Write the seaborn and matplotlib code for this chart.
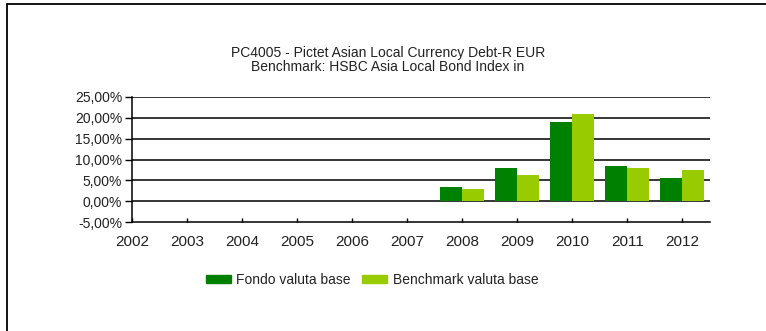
import numpy as np
import pandas as pd
import matplotlib
matplotlib.use('Agg')
import matplotlib.pyplot as plt
from matplotlib.lines import Line2D
import seaborn as sns

# data
years = ['2002', '2003', '2004', '2005', '2006', '2007', '2008', '2009', '2010', '2011', '2012']
fondo = [np.nan, np.nan, np.nan, np.nan, np.nan, np.nan, 3.45, 8.0, 19.0, 8.4, 5.5]
benchmark = [np.nan, np.nan, np.nan, np.nan, np.nan, np.nan, 3.0, 6.2, 20.9, 8.0, 7.4]
series_names = ['Fondo valuta base', 'Benchmark valuta base']
yticks = [-5, 0, 5, 10, 15, 20, 25]
ytick_labels = ['-5,00%', '0,00%', '5,00%', '10,00%', '15,00%', '20,00%', '25,00%']
title = 'PC4005 - Pictet Asian Local Currency Debt-R EUR\nBenchmark: HSBC Asia Local Bond Index in'

df = pd.DataFrame({
    'year': years * 2,
    'value': fondo + benchmark,
    'series': [series_names[0]] * len(years) + [series_names[1]] * len(years),
})

sns.set_style('white')
plt.rcParams['font.family'] = ['Liberation Sans', 'DejaVu Sans']

colors = ['#008000', '#99CC00']

fig = plt.figure(figsize=(7.66, 3.31), dpi=100)
ax = fig.add_axes([132 / 766, 1 - 222 / 331, (710 - 132) / 766, (222 - 97) / 331])

sns.barplot(data=df, x='year', y='value', hue='series', order=years,
            hue_order=series_names, palette=colors, saturation=1,
            width=0.8, linewidth=0, ax=ax)
ax.get_legend().remove()

ax.set_xlim(0, 10.5)
ax.set_ylim(-5, 25)
ax.set_yticks(yticks)
ax.set_yticklabels(ytick_labels, fontsize=10, color='#222222')
ax.set_xlabel('')
ax.set_ylabel('')
for lab in ax.get_xticklabels():
    lab.set_fontsize(11)
    lab.set_color('#222222')

for y in yticks[1:]:
    ax.axhline(y, color='black', lw=1.1, zorder=0)
ax.set_axisbelow(True)

for side in ['top', 'right']:
    ax.spines[side].set_visible(False)
for side in ['left', 'bottom']:
    ax.spines[side].set_color('black')
    ax.spines[side].set_linewidth(1.1)

ax.tick_params(axis='y', direction='out', length=5, width=1, color='black', pad=2, left=True)
ax.tick_params(axis='x', direction='in', length=3, width=1, color='black', pad=9, bottom=True)

fig.text(388 / 766, 1 - 60 / 331, title, ha='center', va='center', fontsize=10,
         linespacing=1.0, color='#222222')

handles = [plt.Rectangle((0, 0), 1, 1, color=c) for c in colors]
fig.legend(handles, series_names, loc='center', bbox_to_anchor=(372 / 766, 1 - 280 / 331),
           ncol=2, frameon=False, fontsize=10, handlelength=1.8, handleheight=0.5,
           handletextpad=0.4, columnspacing=0.8, labelcolor='#222222')

# frame lines at top and left like the source screenshot
fig.add_artist(Line2D([6.5 / 766, 1], [1 - 3.5 / 331, 1 - 3.5 / 331], color='black', lw=1.3,
                      transform=fig.transFigure))
fig.add_artist(Line2D([6.5 / 766, 6.5 / 766], [0, 1 - 3.5 / 331], color='black', lw=1.3,
                      transform=fig.transFigure))

fig.savefig('out.png', dpi=100)
